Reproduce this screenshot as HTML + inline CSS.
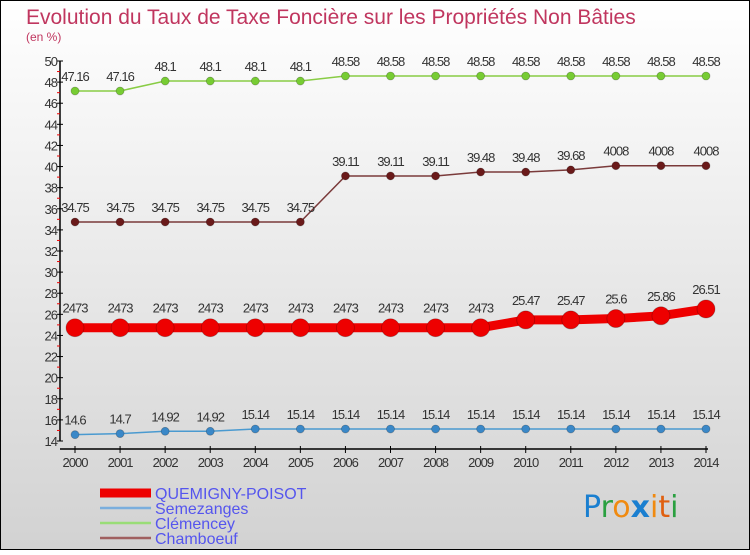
<!DOCTYPE html>
<html><head><meta charset="utf-8"><style>
body{margin:0}
#c{width:750px;height:550px;position:relative;font-family:"Liberation Sans",sans-serif}
</style></head><body>
<div id="c">
<svg id="s" width="750" height="550" xmlns="http://www.w3.org/2000/svg">
<defs><linearGradient id="bg" x1="0" y1="0" x2="0" y2="1"><stop offset="0" stop-color="#ffffff"/><stop offset="1" stop-color="#d2d2d2"/></linearGradient></defs>
<rect x="0.5" y="0.5" width="749" height="549" fill="url(#bg)" stroke="#000"/>
<text x="26" y="24" font-size="21" fill="#c0365f">Evolution du Taux de Taxe Foncière sur les Propriétés Non Bâties</text>
<text x="26" y="41" font-size="12" fill="#c0365f">(en %)</text>
<g id="axes"></g><g id="series"></g><g id="legend"></g>
<g font-size="30" font-family="DejaVu Sans, sans-serif">
<text x="583" y="517"><tspan fill="#1a7fd0">P</tspan><tspan fill="#2aa040">r</tspan><tspan fill="#f08a10">o</tspan><tspan fill="#1a7fd0" font-weight="bold">x</tspan><tspan fill="#f08a10">i</tspan><tspan fill="#e06010">t</tspan><tspan fill="#2aa040">i</tspan></text>
</g>
</svg>
</div>
<script>
const years=[2000,2001,2002,2003,2004,2005,2006,2007,2008,2009,2010,2011,2012,2013,2014];
const quemigny=[24.73,24.73,24.73,24.73,24.73,24.73,24.73,24.73,24.73,24.73,25.47,25.47,25.6,25.86,26.51];
const quemignyLabels=["2473","2473","2473","2473","2473","2473","2473","2473","2473","2473","25.47","25.47","25.6","25.86","26.51"];
const semezanges=[14.6,14.7,14.92,14.92,15.14,15.14,15.14,15.14,15.14,15.14,15.14,15.14,15.14,15.14,15.14];
const semezangesLabels=["14.6","14.7","14.92","14.92","15.14","15.14","15.14","15.14","15.14","15.14","15.14","15.14","15.14","15.14","15.14"];
const clemencey=[47.16,47.16,48.1,48.1,48.1,48.1,48.58,48.58,48.58,48.58,48.58,48.58,48.58,48.58,48.58];
const clemenceyLabels=["47.16","47.16","48.1","48.1","48.1","48.1","48.58","48.58","48.58","48.58","48.58","48.58","48.58","48.58","48.58"];
const chamboeuf=[34.75,34.75,34.75,34.75,34.75,34.75,39.11,39.11,39.11,39.48,39.48,39.68,40.08,40.08,40.08];
const chamboeufLabels=["34.75","34.75","34.75","34.75","34.75","34.75","39.11","39.11","39.11","39.48","39.48","39.68","4008","4008","4008"];
const yTicks=[14,16,18,20,22,24,26,28,30,32,34,36,38,40,42,44,46,48,50];
const yMin=14,yMax=50;
const NS="http://www.w3.org/2000/svg";
function X(i){return 75+i*(706-75)/(years.length-1);}
function Y(v){return 441-(v-yMin)*(441-61)/(yMax-yMin);}
function mk(tag,attrs,parent){const e=document.createElementNS(NS,tag);for(const k in attrs)e.setAttribute(k,attrs[k]);parent.appendChild(e);return e;}
const axes=document.getElementById('axes');
let a=mk('line',{x1:60,y1:Y(yMax),x2:60,y2:Y(yMin),stroke:'#000','stroke-width':1.5},axes);


a=mk('line',{x1:60,y1:449,x2:708,y2:449,stroke:'#000','stroke-width':1.5},axes);


yTicks.forEach(v=>{
 const y=Y(v);
 mk('line',{x1:57,y1:y,x2:63,y2:y,stroke:'#000'},axes);
 const t=mk('text',{x:57,y:y+5,'text-anchor':'end','font-size':13,fill:'#333','letter-spacing':'-1'},axes);
 t.textContent=v;
 
 
 if(v<yMax){const m=Y(v+1);mk('line',{x1:57,y1:m,x2:60,y2:m,stroke:'#e00'},axes);}
});
years.forEach((yr,i)=>{
 const x=X(i);
 mk('line',{x1:x,y1:446,x2:x,y2:453,stroke:'#000'},axes);
 const t=mk('text',{x:x,y:467,'text-anchor':'middle','font-size':13,fill:'#333','letter-spacing':'-1'},axes);
 t.textContent=yr;
 
 
});
const series=[
 {name:'clemencey',vals:clemencey,labels:clemenceyLabels,color:'#88cc44',lw:1.5,r:4,fill:'#77cc33'},
 {name:'chamboeuf',vals:chamboeuf,labels:chamboeufLabels,color:'#7a3a3a',lw:1.5,r:4,fill:'#6a1a1a'},
 {name:'semezanges',vals:semezanges,labels:semezangesLabels,color:'#4a9ad0',lw:1.5,r:4,fill:'#3a88c8'},
 {name:'quemigny-poisot',vals:quemigny,labels:quemignyLabels,color:'#ee0000',lw:9,r:9,fill:'#ee0000'}
];
const sg=document.getElementById('series');
series.forEach(s=>{
 const g=mk('g',{},sg);
 
 
 const pts=s.vals.map((v,i)=>X(i)+','+Y(v)).join(' ');
 const pl=mk('polyline',{points:pts,fill:'none',stroke:s.color,'stroke-width':s.lw},g);
 
 
 s.vals.forEach((v,i)=>{
  const c=mk('circle',{cx:X(i),cy:Y(v),r:s.r,fill:s.fill,stroke:'rgba(0,0,0,0.25)','stroke-width':0.8},g);
  
  
  const t=mk('text',{x:X(i),y:Y(v)-(s.r+6),'text-anchor':'middle','font-size':13,fill:'#333','letter-spacing':'-1'},g);
  t.textContent=s.labels[i];
  
  
 });
});
const lg=document.getElementById('legend');
const legendItems=[['QUEMIGNY-POISOT','#ee0000',9],['Semezanges','#7aaedd',2.5],['Clémencey','#99dd77',2.5],['Chamboeuf','#a06060',2.5]];
legendItems.forEach((it,i)=>{
 const y=493+i*15;
 const g=mk('g',{},lg);
 
 
 mk('line',{x1:100,y1:y,x2:151,y2:y,stroke:it[1],'stroke-width':it[2]},g);
 const t=mk('text',{x:155,y:y+6,'font-size':16,fill:'#5555ee'},g);
 t.textContent=it[0];
});
</script>
</body></html>
